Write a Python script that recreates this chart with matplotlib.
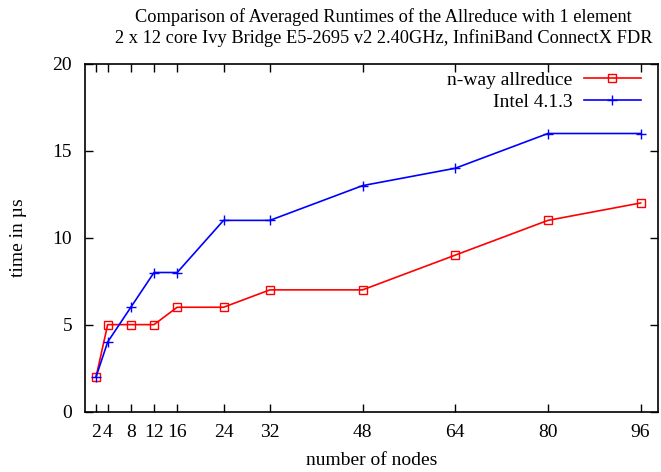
import matplotlib.pyplot as plt

plt.rcParams['font.family'] = ['Liberation Serif', 'DejaVu Serif']

# data
nodes = [2, 4, 8, 12, 16, 24, 32, 48, 64, 80, 96]
nway = [2, 5, 5, 5, 6, 6, 7, 7, 9, 11, 12]
intel = [2, 4, 6, 8, 8, 11, 11, 13, 14, 16, 16]
xticks = [2, 4, 8, 12, 16, 24, 32, 48, 64, 80, 96]
xticklabels = ['2', '4', '8', '12', '16', '24', '32', '48', '64', '80', '96']
yticks = [0, 5, 10, 15, 20]

fig = plt.figure(figsize=(6.61, 4.72), dpi=100)
ax = fig.add_axes([84.5 / 661, 1 - 411.5 / 472, (658 - 84.5) / 661, (411.5 - 64) / 472])

ax.plot(nodes, nway, color='#ff0000', lw=1.2, marker='s', ms=6, mfc='none',
        mec='#ff0000', mew=1.0, label='n-way allreduce')
ax.plot(nodes, intel, color='#0000ff', lw=1.2, marker='+', ms=7, mew=1.0,
        label='Intel 4.1.3')

ax.set_xlim(0, 99)
ax.set_ylim(0, 20)
ax.set_xticks(xticks)
ax.set_xticklabels(xticklabels)
ax.set_yticks(yticks)
ax.tick_params(direction='in', top=True, right=True, length=6, width=1,
               labelsize=14)
ax.tick_params(axis='x', pad=9)
ax.tick_params(axis='y', pad=9)
for s in ax.spines.values():
    s.set_linewidth(1.2)

ax.set_xlabel('number of nodes', fontsize=14, labelpad=8)
ax.set_ylabel('time in µs', fontsize=14, labelpad=18)
fig.text(0.58, 0.982, 'Comparison of Averaged Runtimes of the Allreduce with 1 element\n'
         '2 x 12 core Ivy Bridge E5-2695 v2 2.40GHz, InfiniBand ConnectX FDR',
         ha='center', va='top', fontsize=13.2, linespacing=1.2)

leg = ax.legend(loc='upper right', frameon=False, fontsize=14, markerfirst=False,
                handlelength=2.9, borderaxespad=0.2, labelspacing=0.22,
                handletextpad=0.6, bbox_to_anchor=(0.99, 1.012))
for t in leg.get_texts():
    t.set_ha('right')
leg._legend_box.align = 'right'

fig.savefig('out.png', dpi=100)
